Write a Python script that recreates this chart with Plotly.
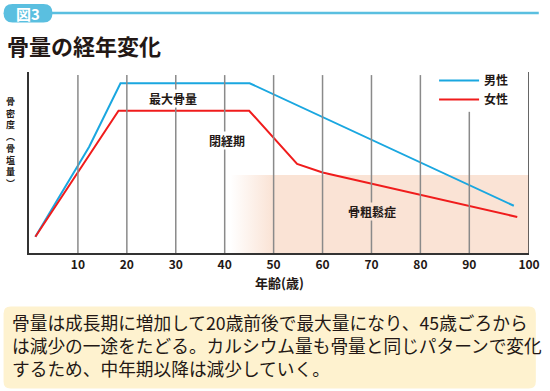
import plotly.graph_objects as go

# ---- data ----
ages_male = [1.3, 12.3, 18.7, 45.1, 99.1]
bone_male = [9, 58.7, 93.8, 93.8, 26.1]
ages_female = [1.3, 18.3, 45.0, 54.8, 60, 99.8]
bone_female = [9, 78.6, 78.6, 49.2, 44.5, 19.9]
grid_ages = [10, 20, 30, 40, 50, 60, 70, 80, 90]
tick_labels = ["10", "20", "30", "40", "50", "60", "70", "80", "90", "100"]
osteo_start, osteo_full, osteo_level = 40.3, 48.8, 43.1

XMAX = 102.2
W, H = 550, 391
L, R, T, B = 29, 10, 72, 138
PW, PH = W - L - R, H - T - B

def px(xp):
    return (xp - L) / PW

def py(yp):
    return (H - B - yp) / PH

FONT = "Noto Sans CJK JP"
BLUE = "#1AA7E0"
RED = "#F01C1C"
SHADE = "#FAE3D5"
GRID = "#8a8a8a"
AXIS = "#333333"
TXT = "#231815"
BADGE = "#5ABFE0"

fig = go.Figure()

# osteoporosis zone with gradient
fig.add_trace(go.Scatter(
    x=[osteo_start, XMAX, XMAX, osteo_start, osteo_start],
    y=[0, 0, osteo_level, osteo_level, 0],
    mode="lines", line=dict(width=0), fill="toself",
    fillgradient=dict(type="horizontal", colorscale=[[0, "white"], [1, SHADE]],
                      start=osteo_start, stop=osteo_full),
    showlegend=False, hoverinfo="skip"))

fig.add_trace(go.Scatter(x=ages_male, y=bone_male, mode="lines", name="男性",
                         line=dict(color=BLUE, width=2)))
fig.add_trace(go.Scatter(x=ages_female, y=bone_female, mode="lines", name="女性",
                         line=dict(color=RED, width=2)))

shapes = []
for a in grid_ages:
    top = 78 if a == 90 else 98.3
    shapes.append(dict(type="line", xref="x", yref="y", x0=a, x1=a, y0=0, y1=top,
                       line=dict(color=GRID, width=1.5), layer="above"))
shapes.append(dict(type="line", xref="x", yref="y", x0=XMAX, x1=XMAX, y0=0, y1=100,
                   line=dict(color=AXIS, width=1.5), layer="above"))


def rounded_rect(x0, y0, x1, y1, r):
    def P(x, y):
        return f"{px(x):.5f},{py(y):.5f}"
    return (f"M {P(x0 + r, y0)} L {P(x1 - r, y0)} Q {P(x1, y0)} {P(x1, y0 + r)} "
            f"L {P(x1, y1 - r)} Q {P(x1, y1)} {P(x1 - r, y1)} "
            f"L {P(x0 + r, y1)} Q {P(x0, y1)} {P(x0, y1 - r)} "
            f"L {P(x0, y0 + r)} Q {P(x0, y0)} {P(x0 + r, y0)} Z")

shapes.append(dict(type="line", xref="paper", yref="paper", x0=px(45), x1=px(550),
                   y0=py(13), y1=py(13), line=dict(color=BADGE, width=2.5)))
shapes.append(dict(type="path", xref="paper", yref="paper",
                   path=rounded_rect(3, 4, 53, 22.5, 9.2),
                   fillcolor=BADGE, line=dict(width=0)))
shapes.append(dict(type="path", xref="paper", yref="paper",
                   path=rounded_rect(3, 306.5, 547, 388.5, 7),
                   fillcolor="#FEF2CF", line=dict(width=0), layer="below"))

annotations = []

def pann(xp, yp, text, size, color=TXT, xanchor="center", yanchor="middle", **kw):
    annotations.append(dict(xref="paper", yref="paper", x=px(xp), y=py(yp), text=text,
                            xanchor=xanchor, yanchor=yanchor, showarrow=False,
                            font=dict(family=FONT, size=size, color=color), **kw))

pann(28, 13.5, "<b>図3</b>", 15, color="white")
pann(4, 45, "<b>骨量の経年変化</b>", 22, xanchor="left")

# vertical y-axis title, one glyph per line
ytitle_chars = ["骨", "密", "度", "︵", "骨", "塩", "量", "︶"]
pann(10.5, 142.5, "<b>" + "<br>".join(ytitle_chars) + "</b>", 9)

for xx, yy, txt, bg in [(29.5, 85.5, "最大骨量", "white"), (40.5, 62.4, "閉経期", "white"),
                        (70.1, 22.8, "骨粗鬆症", SHADE)]:
    annotations.append(dict(x=xx, y=yy, text=f"<b>{txt}</b>", showarrow=False,
                            xanchor="center", yanchor="middle",
                            font=dict(family=FONT, size=12, color=TXT), bgcolor=bg, borderpad=0))

pann(284.5, 282, "<b>年齢(歳)</b>", 13)

note_lines = [
    "骨量は成長期に増加して20歳前後で最大量になり、45歳ごろから",
    "は減少の一途をたどる。カルシウム量も骨量と同じパターンで変化",
    "するため、中年期以降は減少していく。",
]
pann(10, 345.2, "<br>".join(note_lines), 17.7, xanchor="left", align="left")

fig.update_layout(
    width=W, height=H,
    margin=dict(l=L, r=R, t=T, b=B, pad=0),
    paper_bgcolor="white", plot_bgcolor="white",
    shapes=shapes, annotations=annotations,
    xaxis=dict(range=[0, XMAX], showgrid=False, zeroline=False,
               showline=True, linecolor=AXIS, linewidth=1.5,
               tickmode="array", tickvals=grid_ages + [XMAX],
               ticktext=[f"<b>{t}</b>" for t in tick_labels],
               ticks="", ticklabeloverflow="allow",
               tickfont=dict(family=FONT, size=12, color=TXT)),
    yaxis=dict(range=[0, 100], showgrid=False, zeroline=False, showticklabels=False,
               showline=True, linecolor=AXIS, linewidth=1.5, ticks=""),
    legend=dict(x=px(443), y=py(66), xanchor="left", yanchor="top",
                bgcolor="rgba(0,0,0,0)",
                font=dict(family=FONT, size=12, color=TXT, weight="bold"),
                tracegroupgap=0, itemwidth=40),
    showlegend=True,
)

fig.write_html("out.html", config={"displayModeBar": False},
               post_script="document.body.style.margin='0';")
